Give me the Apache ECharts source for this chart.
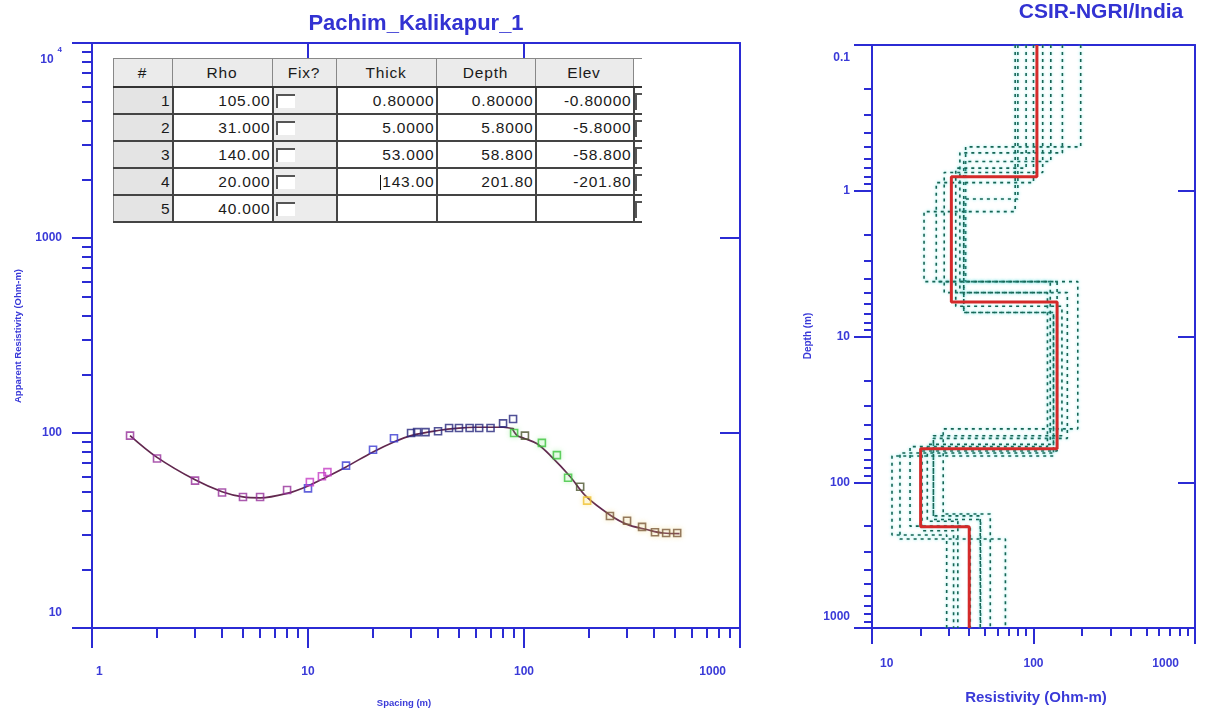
<!DOCTYPE html>
<html>
<head>
<meta charset="utf-8">
<script src="https://cdn.jsdelivr.net/npm/echarts@6/dist/echarts.min.js"></script>
<style>
body{margin:0;background:#fff;}
#wrap{position:relative;width:1211px;height:717px;overflow:hidden;}
#chart{position:absolute;left:0;top:0;width:1211px;height:717px;}
#tbl{position:absolute;left:113px;top:58px;border-collapse:collapse;table-layout:fixed;font-family:'Liberation Sans',Arial,sans-serif;font-size:15.5px;letter-spacing:0.8px;color:#1a1a1a;z-index:5;background:#fff;}
#tbl th,#tbl td{border:1px solid #888;padding:0 1px 0 0;overflow:hidden;white-space:nowrap;}
#tbl th{background:#ebebeb;font-weight:normal;height:27px;text-align:center;border-bottom:2px solid #333;}
#tbl td{height:25px;text-align:right;background:#fff;border-bottom:2px solid #444;border-right:2px solid #444;}
#tbl td.idx{background:#e4e4e4;}
#tbl td.fix{background:#ececec;text-align:left;padding:0 0 0 2px;}
#tbl td.last,#tbl th.last{background:#fff;padding:0;border-right:none;text-align:left;}
.cb{display:inline-block;width:17px;height:12px;background:#fff;border-top:2px solid #555;border-left:2px solid #555;vertical-align:middle;}
.cb2{display:inline-block;width:5px;height:15px;border-top:2px solid #555;border-left:2px solid #555;vertical-align:middle;}
.cur{display:inline-block;width:1px;height:15px;background:#111;vertical-align:middle;margin-right:1px;}
</style>
</head>
<body>
<div id="wrap">
<div id="chart"></div>
<table id="tbl"></table>
</div>
<script>
// ---------------- data ----------------
// layered model table
const tableHeaders = ['#', 'Rho', 'Fix?', 'Thick', 'Depth', 'Elev'];
const layerNo = [1, 2, 3, 4, 5];
const layerRho = [105, 31, 140, 20, 40];
const layerThick = [0.8, 5, 53, 143];
const layerDepth = [0.8, 5.8, 58.8, 201.8];
const layerElev = [-0.8, -5.8, -58.8, -201.8];

// observed apparent resistivity, by colour group
const obsPurpleAB = [1.5, 2, 3, 4, 5, 6, 8];
const obsPurpleRho = [97, 74, 57, 49.5, 47, 47, 51];
const obsBlueAB = [10, 15, 20, 25];
const obsBlueRho = [52, 68, 82, 94];
const obsMagentaAB = [10.2, 11.6, 12.3];
const obsMagentaRho = [56, 60, 63];
const obsNavyAB = [30, 32, 35, 40, 45, 50, 56, 62, 70, 80, 89];
const obsNavyRho = [100, 101, 101, 102, 106, 106, 106, 106, 106, 112, 118];
const obsGreenAB = [90, 121, 142, 160];
const obsGreenRho = [100, 89, 77, 59];
const obsOliveAB = [101, 182];
const obsOliveRho = [97, 53];
const obsYellowAB = [196];
const obsYellowRho = [45];
const obsBrownAB = [250, 300, 352, 404, 455, 512];
const obsBrownRho = [37.5, 35.5, 33, 31, 30.7, 30.7];

// computed sounding curve (two segments)
const curve1AB = [1.5, 2, 3, 4, 5, 6, 8, 10, 12, 15, 20, 25, 30, 40, 50, 60, 70, 80, 90];
const curve1Rho = [97, 75, 57.5, 50, 47, 46.5, 49, 53.5, 59, 67, 80, 90, 97, 103, 106, 107, 107, 107, 105];
const curve2AB = [88, 93, 100, 115, 135, 163, 195, 250, 300, 370, 440, 525];
const curve2Rho = [106, 97, 94, 88, 75, 60, 47, 38, 34, 32, 30.7, 30.5];

// equivalent models (resistivities of 5 layers, depths of 4 interfaces)
const eqRhoA = [196, 38, 188, 27.6, 54];   const eqDepA = [0.5, 4.2, 43, 165];
const eqRhoB = [151, 35, 162, 24, 47];     const eqDepB = [0.55, 5.0, 50, 180];
const eqRhoC = [128, 37, 133, 13.3, 29];   const eqDepC = [0.63, 6.85, 66, 230];
const eqRhoD = [114, 28, 122, 17.2, 40.6]; const eqDepD = [0.75, 5.0, 57, 200];
const eqRhoE = [100, 25, 140, 20.4, 32];   const eqDepE = [0.88, 4.2, 61, 215];
const eqRhoF = [80, 37, 133, 14.9, 67];    const eqDepF = [1.14, 6.85, 63, 245];
const eqRhoG = [77, 21, 127, 22, 34];      const eqDepG = [1.39, 4.2, 55, 185];
const eqRhoH = [90, 33, 150, 24, 46.8];    const eqDepH = [0.7, 6.2, 48, 170];

// axis ticks and labels
const leftXTicks = [1, 10, 100, 1000];
const leftXTickLabels = ['1', '10', '100', '1000'];
const leftYTicks = [10, 100, 1000, 10000];
const leftYTickLabels = ['10', '100', '1000', '10^4'];
const rightXTicks = [10, 100, 1000];
const rightXTickLabels = ['10', '100', '1000'];
const rightYTicks = [0.1, 1, 10, 100, 1000];
const rightYTickLabels = ['0.1', '1', '10', '100', '1000'];

// ---------------- table ----------------
function fmt5(v) { return v.toPrecision(5); }
(function buildTable() {
  const t = document.getElementById('tbl');
  const widths = [59, 100, 64, 100, 99, 98, 7];
  let h = '<colgroup>' + widths.map(w => '<col style="width:' + w + 'px">').join('') + '</colgroup>';
  h += '<tr>' + tableHeaders.map(s => '<th>' + s + '</th>').join('') + '<th class="last"></th></tr>';
  for (let i = 0; i < layerNo.length; i++) {
    const th = i < layerThick.length ? fmt5(layerThick[i]) : '';
    const dp = i < layerDepth.length ? fmt5(layerDepth[i]) : '';
    const el = i < layerElev.length ? fmt5(layerElev[i]) : '';
    const thCell = (i === 3) ? '<td><span class="cur"></span>' + th + '</td>' : '<td>' + th + '</td>';
    h += '<tr><td class="idx">' + layerNo[i] + '</td><td>' + fmt5(layerRho[i]) + '</td><td class="fix"><span class="cb"></span></td>' +
      thCell + '<td>' + dp + '</td><td>' + el + '</td><td class="last"><span class="cb2"></span></td></tr>';
  }
  t.innerHTML = h;
})();

// ---------------- chart ----------------
const BLUE = '#2b2bd4';
const LBLUE = '#3a3ad8';
const FONT = "'Liberation Sans Narrow','Liberation Sans',Arial,sans-serif";

function minorValues(lo, hi) {
  const out = [];
  for (let d = lo; d < hi; d *= 10) for (let k = 2; k <= 9; k++) out.push(+(d * k).toPrecision(6));
  return out;
}
function labelFmt(ticks, labels, minStyle, maxStyle) {
  return function (v) {
    const i = ticks.findIndex(t => Math.abs(Math.log10(t) - Math.log10(v)) < 1e-6);
    if (i < 0) return '';
    const s = labels[i];
    if (s.indexOf('^') >= 0) { const p = s.split('^'); return '{' + (i === ticks.length - 1 && maxStyle ? maxStyle : 'b') + '|' + p[0] + '}{s|' + p[1] + '}'; }
    if (i === 0 && minStyle) return '{' + minStyle + '|' + s + '}';
    if (i === ticks.length - 1 && maxStyle) return '{' + maxStyle + '|' + s + '}';
    return s;
  };
}
function logAxis(o) {
  const ax = {
    gridIndex: o.grid, type: 'log', logBase: 10, min: o.min, max: o.max, position: o.pos,
    inverse: !!o.inverse,
    axisLine: { show: !!o.line, onZero: false, lineStyle: { color: BLUE, width: 2 } },
    axisTick: { show: !!o.ticks, inside: !!o.inside, length: o.len || 10, customValues: o.ticks || [], lineStyle: { color: BLUE, width: 2 } },
    axisLabel: { show: false },
    splitLine: { show: false }, minorTick: { show: false }, minorSplitLine: { show: false }
  };
  if (o.labels) {
    const base = { fontSize: 12, fontWeight: 'bold', color: LBLUE, fontFamily: FONT };
    ax.axisLabel = {
      show: true, customValues: o.ticks, formatter: labelFmt(o.ticks, o.labels, o.minStyle, o.maxStyle),
      margin: o.margin, color: LBLUE, fontSize: 12, fontWeight: 'bold', fontFamily: FONT,
      rich: {
        b: Object.assign({}, base),
        s: Object.assign({}, base, { fontSize: 8, padding: [0, 0, 10, 4] }),
        sTop: Object.assign({}, base, { padding: [11, 0, 0, 0] }),
        sBot: Object.assign({}, base, { padding: [0, 0, 9, 0] }),
        sBot4: Object.assign({}, base, { padding: [0, 0, 5, 0] }),
        sTop7: Object.assign({}, base, { padding: [7, 0, 0, 0] }),
        sR: Object.assign({}, base, { padding: [0, 14, 0, 0] }),
        sR16: Object.assign({}, base, { padding: [0, 16, 0, 0] }),
        sL: Object.assign({}, base, { padding: [0, 0, 0, 4] }),
        sL6: Object.assign({}, base, { padding: [0, 0, 0, 8] })
      }
    };
    if (o.alignMin) ax.axisLabel.alignMinLabel = o.alignMin;
    if (o.alignMax) ax.axisLabel.alignMaxLabel = o.alignMax;
    if (o.valignMin) ax.axisLabel.verticalAlignMinLabel = o.valignMin;
    if (o.valignMax) ax.axisLabel.verticalAlignMaxLabel = o.valignMax;
  }
  return ax;
}

const xAxes = [
  // left grid
  logAxis({ grid: 0, min: 1, max: 1000, pos: 'bottom', line: true, ticks: leftXTicks, len: 20, labels: leftXTickLabels, margin: 38, alignMin: 'left', alignMax: 'right', minStyle: 'sL', maxStyle: 'sR' }),
  logAxis({ grid: 0, min: 1, max: 1000, pos: 'bottom', ticks: minorValues(1, 1000), len: 10 }),
  logAxis({ grid: 0, min: 1, max: 1000, pos: 'top', line: true, ticks: [10, 100], len: 20, inside: true }),
  // right grid
  logAxis({ grid: 1, min: 10, max: 1000, pos: 'bottom', line: true, ticks: rightXTicks, len: 16, labels: rightXTickLabels, margin: 30, alignMin: 'left', alignMax: 'right', minStyle: 'sL6', maxStyle: 'sR16' }),
  logAxis({ grid: 1, min: 10, max: 1000, pos: 'bottom', ticks: minorValues(10, 1000), len: 8 }),
  logAxis({ grid: 1, min: 10, max: 1000, pos: 'top', line: true })
];
const yAxes = [
  logAxis({ grid: 0, min: 10, max: 10000, pos: 'left', line: true, ticks: leftYTicks, len: 20, labels: leftYTickLabels, margin: 30, valignMin: 'bottom', valignMax: 'top', minStyle: 'sBot', maxStyle: 'sTop' }),
  logAxis({ grid: 0, min: 10, max: 10000, pos: 'left', ticks: minorValues(10, 10000), len: 10 }),
  logAxis({ grid: 0, min: 10, max: 10000, pos: 'right', line: true, ticks: [100, 1000], len: 20, inside: true }),
  logAxis({ grid: 1, min: 0.1, max: 1000, pos: 'left', inverse: true, line: true, ticks: rightYTicks, len: 18, labels: rightYTickLabels, margin: 22, valignMin: 'top', valignMax: 'bottom', minStyle: 'sTop7', maxStyle: 'sBot4' }),
  logAxis({ grid: 1, min: 0.1, max: 1000, pos: 'left', inverse: true, ticks: minorValues(0.1, 1000), len: 8 }),
  logAxis({ grid: 1, min: 0.1, max: 1000, pos: 'right', inverse: true, line: true, ticks: [1, 10, 100], len: 17, inside: true })
];

function zip(a, b) { return a.map((v, i) => [v, b[i]]); }
function obsSeries(ab, rho, color, glow) {
  return {
    type: 'scatter', xAxisIndex: 0, yAxisIndex: 0, symbol: 'rect', symbolSize: 7, z: 5,
    itemStyle: { color: 'rgba(255,255,255,0)', borderColor: color, borderWidth: 1.6, shadowColor: glow, shadowBlur: glow ? 5 : 0 },
    data: zip(ab, rho), silent: true
  };
}
function curveSeries(ab, rho) {
  return {
    type: 'line', xAxisIndex: 0, yAxisIndex: 0, smooth: 0.35, showSymbol: false, symbol: 'none', z: 4,
    lineStyle: { color: '#62284f', width: 1.7 }, data: zip(ab, rho), silent: true
  };
}
function stepPoints(rho, dep) {
  const pts = [[rho[0], 0.1]];
  for (let i = 0; i < dep.length; i++) { pts.push([rho[i], dep[i]]); pts.push([rho[i + 1], dep[i]]); }
  pts.push([rho[rho.length - 1], 1000]);
  return pts;
}
function eqSeries(rho, dep) {
  return {
    type: 'line', xAxisIndex: 3, yAxisIndex: 3, showSymbol: false, symbol: 'none', z: 3,
    lineStyle: { color: '#176554', width: 1.6, type: [3, 4], shadowColor: 'rgba(90,225,225,0.9)', shadowBlur: 3 },
    data: stepPoints(rho, dep), silent: true
  };
}

const series = [
  curveSeries(curve1AB, curve1Rho),
  curveSeries(curve2AB, curve2Rho),
  obsSeries(obsPurpleAB, obsPurpleRho, '#96309a'),
  obsSeries(obsBlueAB, obsBlueRho, '#3b3bd2'),
  obsSeries(obsMagentaAB, obsMagentaRho, '#c43cc4'),
  obsSeries(obsNavyAB, obsNavyRho, '#25257c'),
  obsSeries(obsGreenAB, obsGreenRho, '#3cc43c', 'rgba(120,230,120,0.7)'),
  obsSeries(obsOliveAB, obsOliveRho, '#4d5530'),
  obsSeries(obsYellowAB, obsYellowRho, '#f0c030', 'rgba(250,220,90,0.8)'),
  obsSeries(obsBrownAB, obsBrownRho, '#7a5a3a', 'rgba(240,210,110,0.8)'),
  eqSeries(eqRhoA, eqDepA), eqSeries(eqRhoB, eqDepB), eqSeries(eqRhoC, eqDepC), eqSeries(eqRhoD, eqDepD),
  eqSeries(eqRhoE, eqDepE), eqSeries(eqRhoF, eqDepF), eqSeries(eqRhoG, eqDepG), eqSeries(eqRhoH, eqDepH),
  {
    type: 'line', xAxisIndex: 3, yAxisIndex: 3, showSymbol: false, symbol: 'none', z: 6,
    lineStyle: { color: '#d42a2a', width: 3 },
    data: stepPoints(layerRho, layerDepth), silent: true
  }
];

const option = {
  animation: false,
  backgroundColor: '#ffffff',
  grid: [
    { left: 92, top: 43, width: 648, height: 585, containLabel: false },
    { left: 872, top: 45, width: 323, height: 583, containLabel: false }
  ],
  xAxis: xAxes,
  yAxis: yAxes,
  series: series,
  graphic: [
    { type: 'text', x: 416, y: 24, z: 10, style: { text: 'Pachim_Kalikapur_1', fill: '#3232d2', font: "bold 22px " + FONT, align: 'center', verticalAlign: 'middle' } },
    { type: 'text', x: 1101, y: 12, z: 10, style: { text: 'CSIR-NGRI/India', fill: '#3232d2', font: "bold 21px " + FONT, align: 'center', verticalAlign: 'middle' } },
    { type: 'text', x: 18, y: 336, rotation: Math.PI / 2, z: 10, style: { text: 'Apparent Resistivity (Ohm-m)', fill: LBLUE, font: "bold 9.5px " + FONT, align: 'center', verticalAlign: 'middle' } },
    { type: 'text', x: 404, y: 703, z: 10, style: { text: 'Spacing (m)', fill: LBLUE, font: "bold 9.5px " + FONT, align: 'center', verticalAlign: 'middle' } },
    { type: 'text', x: 808, y: 336, rotation: Math.PI / 2, z: 10, style: { text: 'Depth (m)', fill: LBLUE, font: "bold 10px " + FONT, align: 'center', verticalAlign: 'middle' } },
    { type: 'text', x: 1036, y: 698, z: 10, style: { text: 'Resistivity (Ohm-m)', fill: LBLUE, font: "bold 15px " + FONT, align: 'center', verticalAlign: 'middle' } }
  ]
};

const chart = echarts.init(document.getElementById('chart'), null, { renderer: 'canvas' });
chart.setOption(option);
</script>
</body>
</html>
